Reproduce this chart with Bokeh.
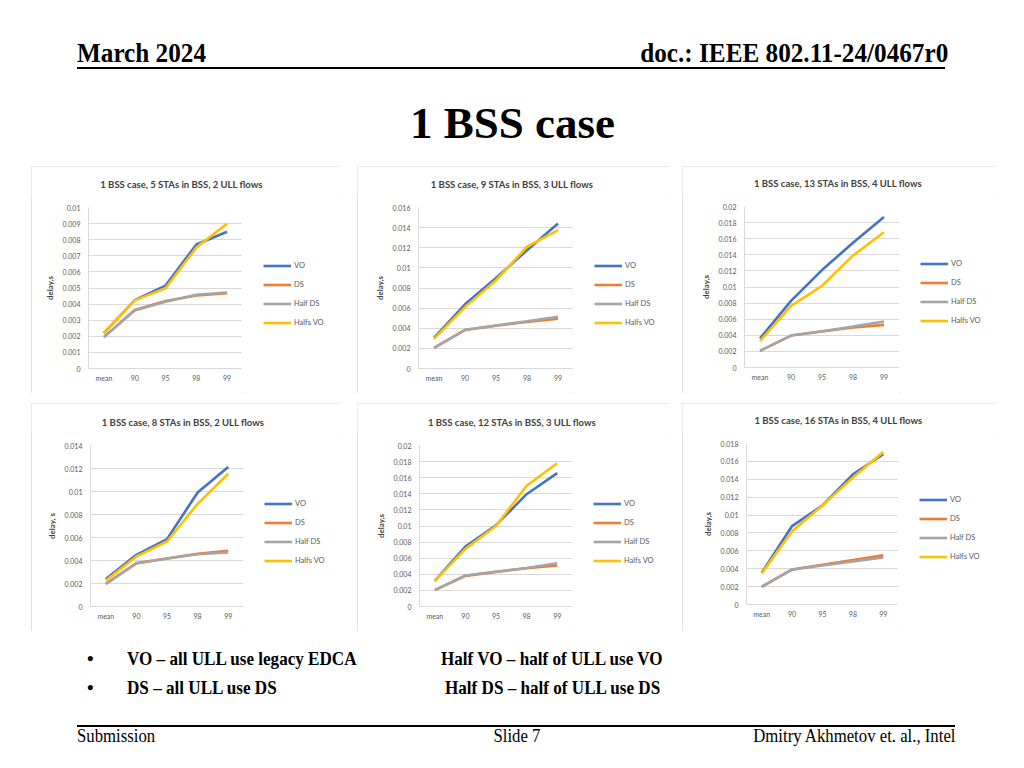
from bokeh.plotting import figure
from bokeh.models import (FactorRange, Range1d, ColumnDataSource, Legend, LegendItem,
                          Label, CustomJSTickFormatter, FixedTicker, Div, Spacer)
from bokeh.layouts import column, row
from bokeh.embed import file_html
from bokeh.resources import INLINE

# ---------------- data ----------------
categories = ["mean", "90", "95", "98", "99"]
series_names = ["VO", "DS", "Half DS", "Halfs VO"]
series_colors = ["#4472C4", "#ED7D31", "#A5A5A5", "#FFC000"]

titles = [
    "1 BSS case, 5 STAs in BSS, 2 ULL flows",
    "1 BSS case, 9 STAs in BSS, 3 ULL flows",
    "1 BSS case, 13 STAs in BSS, 4 ULL flows",
    "1 BSS case, 8 STAs in BSS, 2 ULL flows",
    "1 BSS case, 12 STAs in BSS, 3 ULL flows",
    "1 BSS case, 16 STAs in BSS, 4 ULL flows",
]
y_labels = ["delay,s", "delay,s", "delay,s", "delay, s", "delay,s", "delay,s"]
y_max = [0.01, 0.016, 0.02, 0.014, 0.02, 0.018]
y_step = [0.001, 0.002, 0.002, 0.002, 0.002, 0.002]

c1_vo = [0.00220, 0.00425, 0.00515, 0.00770, 0.00849]
c1_ds = [0.00195, 0.00363, 0.00419, 0.00454, 0.00467]
c1_halfds = [0.00195, 0.00360, 0.00415, 0.00458, 0.00472]
c1_halfvo = [0.00222, 0.00423, 0.00498, 0.00751, 0.00900]

c2_vo = [0.00305, 0.00638, 0.00900, 0.01175, 0.01440]
c2_ds = [0.00206, 0.00382, 0.00425, 0.00462, 0.00495]
c2_halfds = [0.00206, 0.00385, 0.00427, 0.00470, 0.00515]
c2_halfvo = [0.00295, 0.00610, 0.00877, 0.01210, 0.01375]

c3_vo = [0.00360, 0.00828, 0.01210, 0.01550, 0.01870]
c3_ds = [0.00207, 0.00397, 0.00447, 0.00497, 0.00530]
c3_halfds = [0.00207, 0.00397, 0.00450, 0.00510, 0.00571]
c3_halfvo = [0.00330, 0.00766, 0.01015, 0.01390, 0.01680]

c4_vo = [0.00240, 0.00449, 0.00586, 0.00991, 0.01212]
c4_ds = [0.00197, 0.00377, 0.00417, 0.00458, 0.00484]
c4_halfds = [0.00197, 0.00374, 0.00417, 0.00455, 0.00470]
c4_halfvo = [0.00226, 0.00435, 0.00565, 0.00893, 0.01154]

c5_vo = [0.00319, 0.00745, 0.01010, 0.01395, 0.01656]
c5_ds = [0.00203, 0.00380, 0.00430, 0.00476, 0.00509]
c5_halfds = [0.00203, 0.00385, 0.00432, 0.00478, 0.00538]
c5_halfvo = [0.00319, 0.00716, 0.01000, 0.01500, 0.01780]

c6_vo = [0.00355, 0.00877, 0.01108, 0.01455, 0.01680]
c6_ds = [0.00198, 0.00392, 0.00444, 0.00496, 0.00549]
c6_halfds = [0.00198, 0.00390, 0.00436, 0.00480, 0.00526]
c6_halfvo = [0.00347, 0.00820, 0.01108, 0.01420, 0.01705]

chart_series = [
    [c1_vo, c1_ds, c1_halfds, c1_halfvo],
    [c2_vo, c2_ds, c2_halfds, c2_halfvo],
    [c3_vo, c3_ds, c3_halfds, c3_halfvo],
    [c4_vo, c4_ds, c4_halfds, c4_halfvo],
    [c5_vo, c5_ds, c5_halfds, c5_halfvo],
    [c6_vo, c6_ds, c6_halfds, c6_halfvo],
]

# ---------------- geometry (layout only) ----------------
# panel width, height, border left, right, top, bottom
geom = [
    (309, 227, 57, 98, 41, 25),
    (312, 227, 61, 96, 41, 25),
    (314, 227, 62, 97, 40, 26),
    (309, 228, 59, 97, 42, 25),
    (312, 228, 62, 97, 42, 25),
    (314, 228, 64, 98, 40, 27),
]
TITLE_H = 30

FONT = "Lato"
GRID = "#d9d9d9"

fmt = CustomJSTickFormatter(code="""
    if (Math.abs(tick) < 1e-12) return '0';
    return String(parseFloat(tick.toFixed(5)));
""")


def strip_fig(w, h, x_range, y_range):
    f = figure(width=w, height=h, x_range=x_range, y_range=y_range,
               x_axis_type=None, y_axis_type=None, min_border=0,
               output_backend="svg", toolbar_location=None,
               background_fill_color="white", border_fill_color="white")
    f.outline_line_color = None
    f.xgrid.visible = False
    f.ygrid.visible = False
    return f


def make_panel(i):
    W, H, bl, br, bt, bb = geom[i]
    fw = W - bl - br
    ticks = []
    k = 0
    while k * y_step[i] <= y_max[i] + 1e-12:
        ticks.append(round(k * y_step[i], 6))
        k += 1

    # title strip
    tf = strip_fig(W, TITLE_H, Range1d(0, 1), Range1d(0, 1))
    tf.add_layout(Label(x=bl + fw / 2 + 16, y=TITLE_H - (bt - 23), x_units="screen", y_units="screen",
                        text=titles[i], text_align="center", text_baseline="middle",
                        text_font=FONT, text_font_style="bold", text_font_size="9.5px",
                        text_color="#404040"))

    # chart
    p = figure(x_range=FactorRange(factors=categories), y_range=Range1d(0, y_max[i]),
               width=W - br, height=H - TITLE_H, min_border_left=bl, min_border_right=0,
               min_border_top=bt - TITLE_H, min_border_bottom=bb,
               output_backend="svg", toolbar_location=None,
               background_fill_color="white", border_fill_color="white")
    p.outline_line_color = None
    p.xgrid.grid_line_color = None
    p.ygrid.grid_line_color = GRID
    p.ygrid.grid_line_width = 1
    p.yaxis.ticker = FixedTicker(ticks=ticks)
    p.yaxis.formatter = fmt
    for ax in (p.xaxis[0], p.yaxis[0]):
        ax.axis_line_color = GRID
        ax.major_tick_line_color = None
        ax.minor_tick_line_color = None
        ax.major_tick_out = 0
        ax.major_tick_in = 0
        ax.minor_tick_out = 0
        ax.minor_tick_in = 0
        ax.major_label_text_font = FONT
        ax.major_label_text_font_size = "7px"
        ax.major_label_text_color = "#595959"
    p.xaxis.major_label_standoff = 5
    p.yaxis.major_label_standoff = 8
    p.yaxis.axis_label = y_labels[i]
    p.yaxis.axis_label_text_font = FONT
    p.yaxis.axis_label_text_font_style = "bold"
    p.yaxis.axis_label_text_font_size = "8px"
    p.yaxis.axis_label_text_color = "#404040"
    p.yaxis.axis_label_standoff = 5

    # legend strip (keys drawn from the same sources, kept outside its view)
    lf = strip_fig(br, H - TITLE_H, FactorRange(factors=categories), Range1d(1, 2))
    items = []
    for name, col, vals in zip(series_names, series_colors, chart_series[i]):
        src = ColumnDataSource(data=dict(x=categories, y=vals))
        p.line("x", "y", source=src, line_color=col, line_width=2.6)
        key = lf.line("x", "y", source=src, line_color=col, line_width=2.6)
        items.append(LegendItem(label=name, renderers=[key]))
    leg = Legend(items=items, location=(21, H - bt - 123.5 - 26))
    leg.glyph_width = 28
    leg.glyph_height = 19
    leg.label_standoff = 3
    leg.spacing = 0
    leg.padding = 0
    leg.margin = 0
    leg.border_line_color = None
    leg.background_fill_alpha = 0
    leg.label_text_font = FONT
    leg.label_text_font_size = "7.5px"
    leg.label_text_color = "#595959"
    lf.add_layout(leg)

    return column(tf, row(p, lf), styles={"outline": "1px solid #d9d9d9", "outline-offset": "-1px"})


panels = [make_panel(i) for i in range(6)]

SERIF = "'Liberation Serif', 'Times New Roman', serif"


def span(text, left=None, right=None, center=None, baseline=0, fs=18, bold=False, sx=1.0):
    top = baseline - 0.8375 * fs
    weight = "bold" if bold else "normal"
    if center is not None:
        pos = f"left:{center - 300}px;width:600px;text-align:center;"
        origin = "center"
    elif right is not None:
        pos = f"right:{1008 - right}px;text-align:right;"
        origin = "right"
    else:
        pos = f"left:{left}px;"
        origin = "left"
    return (f'<div style="position:absolute;{pos}top:{top:.1f}px;font-family:{SERIF};'
            f'font-size:{fs}px;line-height:{fs}px;font-weight:{weight};white-space:nowrap;'
            f'color:#000;transform:scaleX({sx});transform-origin:{origin} center;">{text}</div>')


header_html = (
    '<div style="position:relative;width:1008px;height:156px;">'
    + span("March 2024", left=72, baseline=57, fs=28, bold=True, sx=0.9)
    + span("doc.: IEEE 802.11-24/0467r0", right=943, baseline=57, fs=28, bold=True, sx=0.9)
    + '<div style="position:absolute;left:72px;top:62px;width:868px;height:2px;background:#000;"></div>'
    + span("1 BSS case", center=507.5, baseline=134, fs=45, bold=True)
    + '</div>'
)
footer_html = (
    '<div style="position:relative;width:1008px;height:128px;">'
    + span("&bull;", left=82, baseline=29, fs=19, bold=True)
    + span("VO &ndash; all ULL use legacy EDCA", left=122, baseline=29, fs=19, bold=True, sx=0.9)
    + span("Half VO &ndash; half of ULL use VO", left=436, baseline=29, fs=19, bold=True, sx=0.9)
    + span("&bull;", left=82, baseline=58, fs=19, bold=True)
    + span("DS &ndash; all ULL use DS", left=122, baseline=58, fs=19, bold=True, sx=0.9)
    + span("Half DS &ndash; half of ULL use DS", left=440, baseline=58, fs=19, bold=True, sx=0.9)
    + '<div style="position:absolute;left:72px;top:89px;width:878px;height:1.5px;background:#000;"></div>'
    + span("Submission", left=72, baseline=106, fs=18, sx=0.93)
    + span("Slide 7", center=512, baseline=106, fs=18, sx=0.93)
    + span("Dmitry Akhmetov et. al., Intel", right=950, baseline=106, fs=18, sx=0.93)
    + '</div>'
)

header = Div(text=header_html, width=1008, height=156)
footer = Div(text=footer_html, width=1008, height=128)

row1 = row(Spacer(width=31, height=227), panels[0], Spacer(width=17, height=227), panels[1],
           Spacer(width=13, height=227), panels[2])
row2 = row(Spacer(width=31, height=228), panels[3], Spacer(width=17, height=228), panels[4],
           Spacer(width=13, height=228), panels[5])
layout = column(header, row1, Spacer(width=10, height=10), row2, footer)

open("out.html", "w").write(file_html(layout, INLINE))
